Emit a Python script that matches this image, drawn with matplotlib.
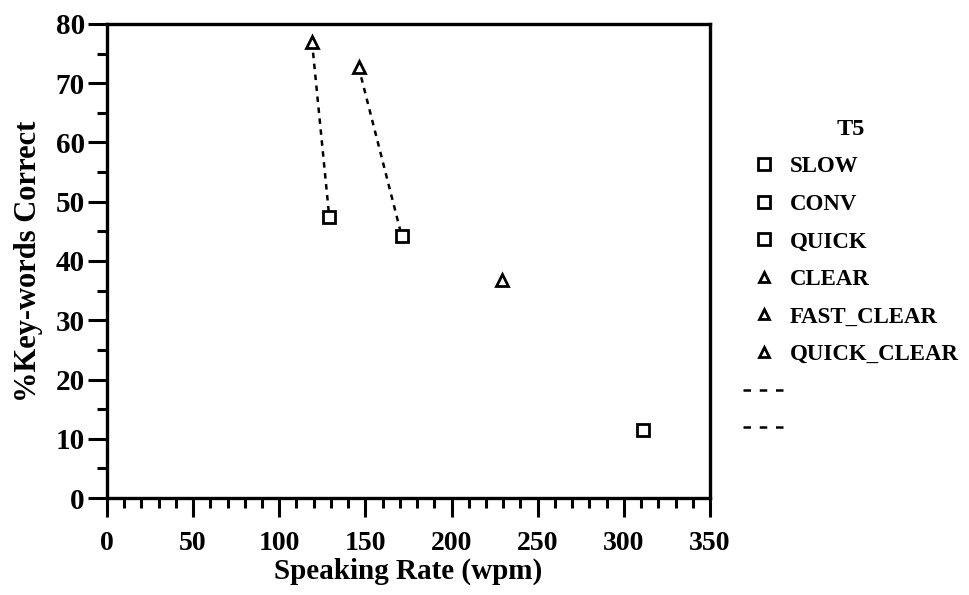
import matplotlib.pyplot as plt
from matplotlib.lines import Line2D
from matplotlib.ticker import MultipleLocator

# speaking styles, grouped by marker
square_styles = ["SLOW", "CONV", "QUICK"]
square_rate = [129, 171, 311]
square_correct = [47.5, 44.3, 11.4]

triangle_styles = ["CLEAR", "FAST_CLEAR", "QUICK_CLEAR"]
triangle_rate = [119, 146, 229]
triangle_correct = [77.0, 72.8, 36.8]

# dashed links: (triangle index, square index)
links = [(0, 0), (1, 1)]

plt.rcParams["font.family"] = ["Liberation Serif", "DejaVu Serif"]
plt.rcParams["font.weight"] = "bold"

fig = plt.figure(figsize=(9.69, 5.95), dpi=100)
ax = fig.add_axes([0.1104, 0.163, 0.6223, 0.7967])

dash = (0, (2.2, 2.2))
for ti, si in links:
    ax.plot([triangle_rate[ti], square_rate[si]], [triangle_correct[ti], square_correct[si]],
            color="black", lw=1.8, linestyle=dash, zorder=2)

handles = []
for x, y in zip(square_rate, square_correct):
    ax.plot([x], [y], marker="s", ms=9, mfc="white", mec="black", mew=2, ls="none", zorder=3)
    handles.append(Line2D([], [], marker="s", ms=8, mfc="white", mec="black", mew=2, ls="none"))
for x, y in zip(triangle_rate, triangle_correct):
    ax.plot([x], [y], marker="^", ms=9, mfc="white", mec="black", mew=2, ls="none", zorder=3)
    handles.append(Line2D([], [], marker="^", ms=7, mfc="white", mec="black", mew=2, ls="none"))
labels = square_styles + triangle_styles
for _ in links:
    handles.append(Line2D([], [], color="black", lw=1.8, linestyle=(0, (3, 3.5))))
    labels.append(" ")

ax.set_xlim(0, 350)
ax.set_ylim(0, 80)
ax.xaxis.set_major_locator(MultipleLocator(50))
ax.xaxis.set_minor_locator(MultipleLocator(10))
ax.yaxis.set_major_locator(MultipleLocator(10))
ax.yaxis.set_minor_locator(MultipleLocator(5))
ax.tick_params(which="major", length=14, width=2.2, direction="out", labelsize=21)
ax.tick_params(axis="x", which="major", pad=10, labelsize=20)
ax.tick_params(axis="y", which="major", pad=2)
ax.tick_params(which="minor", length=7, width=2.2, direction="out")
for s in ax.spines.values():
    s.set_linewidth(2.4)
for lab in ax.get_xticklabels() + ax.get_yticklabels():
    lab.set_fontweight("bold")

ax.set_xlabel("Speaking Rate (wpm)", fontsize=21, fontweight="bold", labelpad=1)
ax.set_ylabel("%Key-words Correct", fontsize=22, fontweight="bold", labelpad=9)

leg = fig.legend(handles, labels, title="T5", loc="upper left", bbox_to_anchor=(0.745, 0.835),
                 frameon=False, prop={"size": 16.5, "weight": "bold"},
                 title_fontproperties={"size": 17.5, "weight": "bold"},
                 handlelength=1.9, handletextpad=0.15, labelspacing=0.72)

fig.savefig("out.png", dpi=100)
